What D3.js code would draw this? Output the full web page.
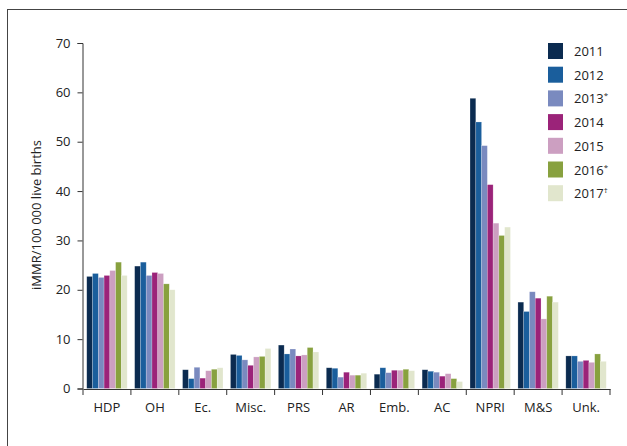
<!DOCTYPE html>
<html>
<head>
<meta charset="utf-8">
<script src="https://cdn.jsdelivr.net/npm/d3@7"></script>
<style>
  body { margin: 0; background: #fff; }
  svg { display: block; font-family: "Open Sans", "Noto Sans", sans-serif; }
</style>
</head>
<body>
<svg id="chart" width="627" height="446"></svg>
<script>
const categories = ['HDP', 'OH', 'Ec.', 'Misc.', 'PRS', 'AR', 'Emb.', 'AC', 'NPRI', 'M&S', 'Unk.'];
const years = ['2011', '2012', '2013', '2014', '2015', '2016', '2017'];
const yearMarks = ['', '', '*', '', '', '*', '†'];
const colors = ['#0b2b50', '#1a5e9c', '#7a8abf', '#9b2379', '#cc9fc1', '#88a13f', '#e1e6cd'];
const yTicks = [0, 10, 20, 30, 40, 50, 60, 70];

// one array per year, in category order
const v2011 = [22.7, 24.8, 3.8, 6.9, 8.8, 4.2, 2.9, 3.8, 58.8, 17.5, 6.6];
const v2012 = [23.3, 25.6, 2.0, 6.7, 7.0, 4.1, 4.2, 3.5, 54.0, 15.6, 6.6];
const v2013 = [22.5, 22.9, 4.3, 5.8, 8.0, 2.3, 3.2, 3.3, 49.2, 19.6, 5.5];
const v2014 = [22.9, 23.5, 2.1, 4.7, 6.6, 3.3, 3.7, 2.5, 41.3, 18.3, 5.7];
const v2015 = [23.9, 23.3, 3.6, 6.4, 6.8, 2.7, 3.7, 3.0, 33.5, 14.1, 5.3];
const v2016 = [25.6, 21.2, 3.9, 6.5, 8.3, 2.7, 3.9, 2.0, 31.0, 18.7, 7.0];
const v2017 = [22.9, 20.0, 4.2, 8.1, 7.4, 3.1, 3.6, 1.4, 32.7, 17.5, 5.5];
const series = [v2011, v2012, v2013, v2014, v2015, v2016, v2017];

const svg = d3.select('#chart');

// outer frame (runs off the right and bottom edges)
svg.append('rect')
    .attr('x', 7.5).attr('y', 9.5)
    .attr('width', 700).attr('height', 500)
    .attr('fill', 'none')
    .attr('stroke', '#444')
    .attr('stroke-width', 1);

const x = d3.scaleBand()
    .domain(categories)
    .range([83, 610])
    .padding(0);

const x1 = d3.scaleBand()
    .domain(years)
    .range([0, x.bandwidth()])
    .paddingInner(0)
    .paddingOuter(0.65);

const y = d3.scaleLinear()
    .domain([0, 70])
    .range([388.5, 43]);

const rows = categories.map((c, i) => ({
    cat: c,
    vals: years.map((yr, j) => ({ year: yr, j, value: series[j][i] }))
}));

const groups = svg.append('g').selectAll('g')
    .data(rows)
    .join('g')
    .attr('transform', d => `translate(${x(d.cat)},0)`);

groups.selectAll('rect')
    .data(d => d.vals)
    .join('rect')
    .attr('x', d => x1(d.year))
    .attr('width', x1.bandwidth())
    .attr('y', d => y(d.value))
    .attr('height', d => y(0) - y(d.value))
    .attr('fill', d => colors[d.j])
    .attr('stroke', 'rgba(255,255,255,0.35)')
    .attr('stroke-width', 0.6);

// y axis
const yAxis = svg.append('g')
    .attr('transform', 'translate(82.5,0)')
    .call(d3.axisLeft(y).tickValues(yTicks).tickSize(5).tickPadding(7));
yAxis.select('.domain').attr('stroke', '#333');
yAxis.selectAll('.tick line').attr('stroke', '#333');
yAxis.selectAll('text')
    .attr('fill', '#222')
    .attr('font-size', '13px')
    .attr('font-family', '"Open Sans", "Noto Sans", sans-serif');

// x axis: labels centred in bands, ticks at band edges
const xAxis = svg.append('g')
    .attr('transform', `translate(0,${y(0) + 0.5})`)
    .call(d3.axisBottom(x).tickSize(0).tickPadding(14).tickSizeOuter(0));
xAxis.select('.domain').attr('stroke', '#333').attr('stroke-width', 1.2);
xAxis.selectAll('text')
    .attr('fill', '#222')
    .attr('font-size', '13px')
    .attr('font-family', '"Open Sans", "Noto Sans", sans-serif');

const edges = categories.map(c => x(c)).concat([x.range()[1]]);
xAxis.selectAll('.edge')
    .data(edges)
    .join('line')
    .attr('class', 'edge')
    .attr('x1', d => d).attr('x2', d => d)
    .attr('y1', 0).attr('y2', 6)
    .attr('stroke', '#333');

// y axis title
svg.append('text')
    .attr('transform', 'translate(41,215) rotate(-90)')
    .attr('text-anchor', 'middle')
    .attr('font-size', '13px')
    .attr('fill', '#222')
    .text('iMMR/100 000 live births');

// legend
const legend = svg.append('g')
    .attr('transform', 'translate(548,43)');
const item = legend.selectAll('g')
    .data(years)
    .join('g')
    .attr('transform', (d, i) => `translate(0,${i * 23.7})`);
item.append('rect')
    .attr('width', 15).attr('height', 16)
    .attr('fill', (d, i) => colors[i]);
const lt = item.append('text')
    .attr('x', 26).attr('y', 13)
    .attr('font-size', '13px')
    .attr('fill', '#222');
lt.append('tspan').text(d => d);
lt.append('tspan')
    .attr('dy', -5)
    .attr('font-size', '8px')
    .text((d, i) => yearMarks[i]);
</script>
</body>
</html>
